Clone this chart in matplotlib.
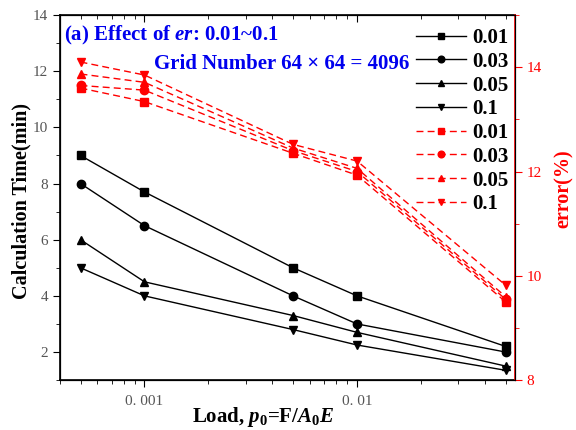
import numpy as np
import matplotlib.pyplot as plt
from matplotlib.ticker import FixedLocator, NullFormatter, MultipleLocator, LogLocator

plt.rcParams['font.family'] = ['Liberation Serif', 'DejaVu Serif']
plt.rcParams['mathtext.fontset'] = 'custom'
plt.rcParams['mathtext.rm'] = 'Liberation Serif:bold'
plt.rcParams['mathtext.bf'] = 'Liberation Serif:bold'
plt.rcParams['mathtext.it'] = 'Liberation Serif:bold:italic'

# data
load = [0.0005, 0.001, 0.005, 0.01, 0.05]
er_labels = ["0.01", "0.03", "0.05", "0.1"]
markers = ["s", "o", "^", "v"]

time_001 = [9.0, 7.7, 5.0, 4.0, 2.2]
time_003 = [8.0, 6.5, 4.0, 3.0, 2.0]
time_005 = [6.0, 4.5, 3.3, 2.7, 1.5]
time_01 = [5.0, 4.0, 2.8, 2.25, 1.35]

err_001 = [13.60, 13.34, 12.35, 11.93, 9.50]
err_003 = [13.65, 13.56, 12.40, 12.00, 9.55]
err_005 = [13.87, 13.71, 12.45, 12.06, 9.60]
err_01 = [14.10, 13.85, 12.52, 12.20, 9.82]

times = [time_001, time_003, time_005, time_01]
errors = [err_001, err_003, err_005, err_01]

fig = plt.figure(figsize=(5.76, 4.3), dpi=100)
ax = fig.add_axes([0.104, 0.116, 0.790, 0.849])
ax2 = ax.twinx()
ax3 = ax.twiny()  # only for the inward ticks on the top edge

handles = []
for t, m, lab in zip(times, markers, er_labels):
    h, = ax.plot(load, t, color="black", lw=1, marker=m, ms=6, label=lab)
    handles.append(h)
for e, m, lab in zip(errors, markers, er_labels):
    h, = ax2.plot(load, e, color="red", lw=1, ls=(0, (5, 3)), marker=m, ms=6, label=lab)
    handles.append(h)

xlim = (4.0e-4, 0.0553)
for a in (ax, ax3):
    a.set_xscale("log")
    a.set_xlim(*xlim)
    a.xaxis.set_major_locator(FixedLocator([0.001, 0.01]))
    a.xaxis.set_minor_locator(LogLocator(base=10, subs=np.arange(2, 10)))
    a.xaxis.set_minor_formatter(NullFormatter())
ax.set_xticklabels(["0. 001", "0. 01"])
ax3.set_xticklabels([])
ax.set_ylim(1, 14)
ax2.set_ylim(8, 15)

ax.yaxis.set_major_locator(FixedLocator([2, 4, 6, 8, 10, 12, 14]))
ax.yaxis.set_minor_locator(MultipleLocator(1))
ax2.yaxis.set_major_locator(FixedLocator([8, 10, 12, 14]))
ax2.yaxis.set_minor_locator(MultipleLocator(1))

tick_col = "#555555"
ax.tick_params(axis="x", which="major", direction="out", length=5, labelsize=11,
               labelcolor=tick_col, pad=6)
ax.tick_params(axis="x", which="minor", direction="out", length=3)
ax3.tick_params(axis="x", which="major", direction="in", length=5)
ax3.tick_params(axis="x", which="minor", direction="in", length=3)
ax.tick_params(axis="y", which="major", direction="out", length=5, labelsize=11, labelcolor=tick_col)
ax.tick_params(axis="y", which="minor", direction="out", length=3)
ax2.tick_params(axis="y", which="major", colors="red", direction="out", length=5, labelsize=11)
ax2.tick_params(axis="y", which="minor", colors="red", direction="out", length=3)
ax2.spines["right"].set_color("red")
ax2.spines["right"].set_linewidth(1.2)
for s in ["left", "bottom", "top"]:
    ax.spines[s].set_linewidth(1.2)

ax.set_xlabel("Load, $p_0$=F/$A_0E$", fontsize=15, fontweight="bold")
ax.xaxis.set_label_coords(0.446, -0.068)
ax.set_ylabel("Calculation Time(min)", fontsize=14.5, fontweight="bold")
ax.yaxis.set_label_coords(-0.062, 0.49)
ax2.set_ylabel("error(%)", fontsize=14.5, fontweight="bold", color="red")
ax2.yaxis.set_label_coords(1.085, 0.525)

ax.text(0.01, 0.975, "(a) Effect of $er$: 0.01~0.1", transform=ax.transAxes,
        fontsize=15, fontweight="bold", color="#0000ee", va="top", ha="left")
ax.text(0.488, 0.867, "Grid Number 64 × 64 = 4096", transform=ax.transAxes,
        fontsize=15, fontweight="bold", color="#0000ee", va="center", ha="center")

ax2.legend(handles=handles, loc="upper right", frameon=False,
           prop={"weight": "bold", "size": 15}, handlelength=2.4, markerscale=0.8,
           labelspacing=0.18, handletextpad=0.3, borderaxespad=0.1,
           bbox_to_anchor=(1.008, 0.993))

fig.savefig("out.png", dpi=100)
